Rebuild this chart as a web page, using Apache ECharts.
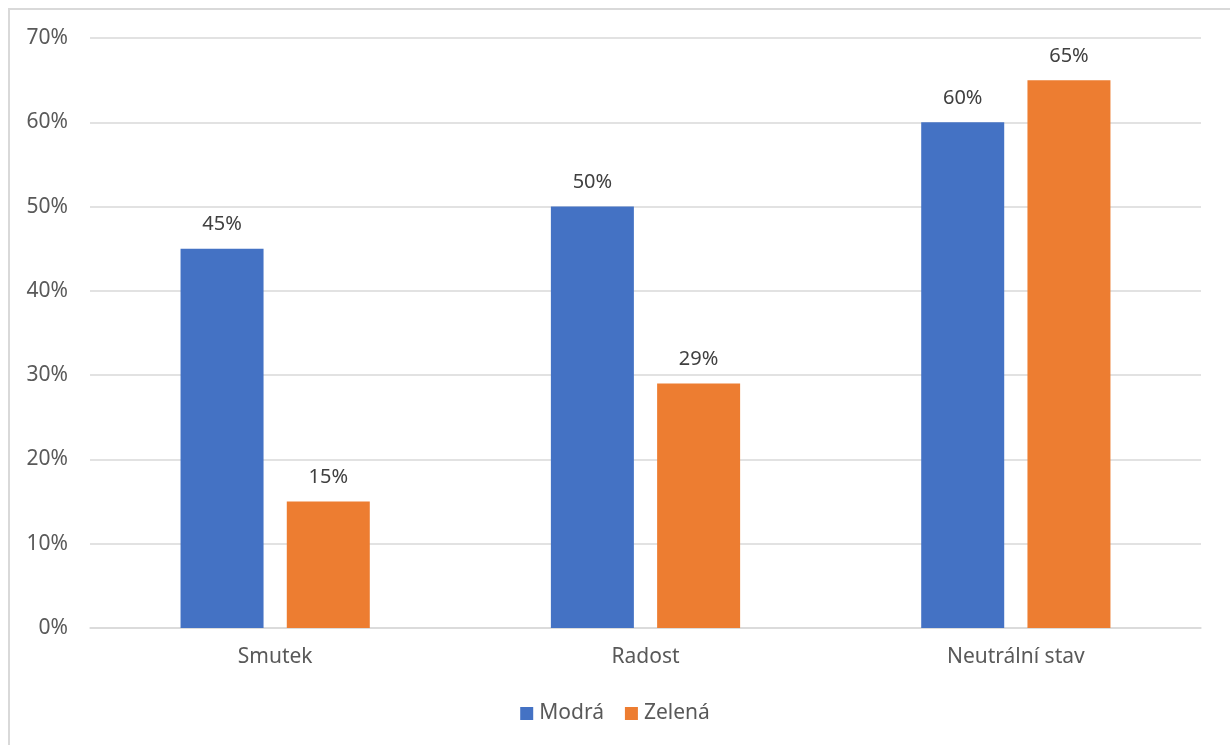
<!DOCTYPE html>
<html>
<head>
<meta charset="utf-8">
<script src="https://cdn.jsdelivr.net/npm/echarts@6/dist/echarts.min.js"></script>
<style>
  html, body { margin: 0; padding: 0; background: #fff; }
  #frame { position: absolute; left: 8px; top: 8px; width: 1240px; height: 760px; border: 2px solid #d9d9d9; box-sizing: border-box; }
  #chart { position: absolute; left: 0; top: 0; width: 1230px; height: 745px; }
</style>
</head>
<body>
<div id="frame"></div>
<div id="chart"></div>
<script>
const categories = ['Smutek', 'Radost', 'Neutrální stav'];
const seriesNames = ['Modrá', 'Zelená'];
const modra = [45, 50, 60];
const zelena = [15, 29, 65];
const yTicks = [0, 10, 20, 30, 40, 50, 60, 70];

const FONT = '"Noto Sans", sans-serif';
const TEXT = '#595959';

const chart = echarts.init(document.getElementById('chart'), null, { renderer: 'canvas' });

const labelStyle = {
  show: true,
  position: 'top',
  distance: 14,
  formatter: p => p.value + '%',
  color: '#404040',
  fontFamily: FONT,
  fontSize: 20
};

chart.setOption({
  animation: false,
  textStyle: { fontFamily: FONT },
  grid: { left: 90, right: 29, top: 38, bottom: 117, containLabel: false },
  legend: {
    data: seriesNames,
    bottom: 16,
    left: 'center',
    itemWidth: 13,
    itemHeight: 13,
    itemGap: 21,
    icon: 'rect',
    textStyle: { color: TEXT, fontFamily: FONT, fontSize: 21, padding: [0, 0, 0, 1] }
  },
  xAxis: {
    type: 'category',
    data: categories,
    axisLine: { lineStyle: { color: '#d9d9d9', width: 1.5 } },
    axisTick: { show: false },
    axisLabel: { color: TEXT, fontFamily: FONT, fontSize: 21, margin: 19 }
  },
  yAxis: {
    type: 'value',
    min: yTicks[0],
    max: yTicks[yTicks.length - 1],
    interval: 10,
    axisLine: { show: false },
    axisTick: { show: false },
    splitLine: { lineStyle: { color: '#d9d9d9', width: 1.5 } },
    axisLabel: { color: TEXT, fontFamily: FONT, fontSize: 21, margin: 22, formatter: v => v + '%' }
  },
  series: [
    {
      name: seriesNames[0],
      type: 'bar',
      data: modra,
      barWidth: 83,
      barGap: '28%',
      itemStyle: { color: '#4472c4' },
      label: labelStyle
    },
    {
      name: seriesNames[1],
      type: 'bar',
      data: zelena,
      barWidth: 83,
      barGap: '28%',
      itemStyle: { color: '#ed7d31' },
      label: labelStyle
    }
  ]
});
</script>
</body>
</html>
